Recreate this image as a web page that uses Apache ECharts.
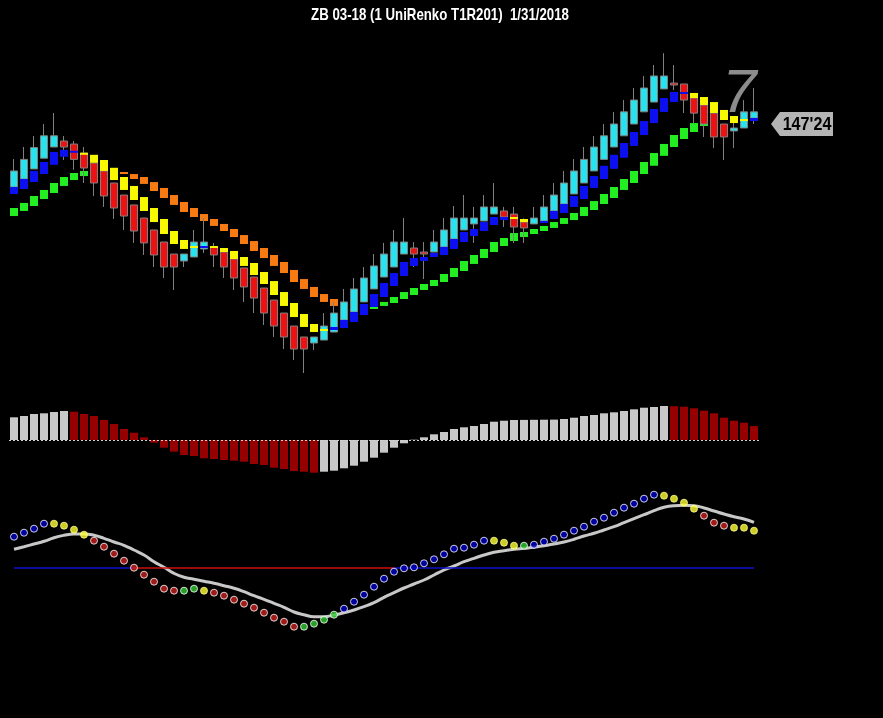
<!DOCTYPE html>
<html>
<head>
<meta charset="utf-8">
<title>ZB 03-18 UniRenko</title>
<script src="https://cdn.jsdelivr.net/npm/echarts@6/dist/echarts.min.js"></script>
<style>
  html, body { margin: 0; padding: 0; background: #000; }
  #chart { width: 883px; height: 718px; }
</style>
</head>
<body>
<div id="chart"></div>
<script>
// all prices are in 32nds above 147'00
var candleOpen = [18.66, 19.34, 20.19, 21.1, 22.05, 22.56, 22.3, 21.54, 20.69, 20.02,
  19.0, 17.98, 17.14, 16.03, 15.02, 14.0, 12.98, 12.39, 12.73, 13.41,
  13.58, 13.15, 12.56, 11.8, 11.03, 10.1, 9.08, 7.98, 6.88, 5.95,
  5.44, 5.69, 6.37, 7.39, 8.07, 8.92, 10.02, 11.03, 11.88, 12.98,
  13.49, 13.15, 13.15, 13.58, 14.25, 15.02, 15.53, 15.78, 16.37, 16.63,
  16.37, 15.69, 15.53, 15.78, 16.63, 17.22, 18.07, 19.0, 20.02, 21.0,
  22.05, 23.0, 24.0, 25.03, 25.86, 26.97, 27.47, 27.39, 26.2, 25.61,
  24.92, 24.0, 23.41, 23.66, 24.5];
var candleClose = [20.02, 21.0, 22.0, 23.0, 23.0, 22.05, 21.0, 20.27, 19.0, 17.9,
  16.88, 16.2, 14.93, 13.92, 12.9, 11.88, 11.88, 12.98, 14.0, 14.0,
  12.9, 11.88, 10.95, 10.19, 9.25, 7.98, 6.88, 5.95, 4.93, 4.93,
  5.95, 6.88, 7.98, 8.92, 10.02, 10.95, 11.97, 12.98, 14.0, 14.0,
  12.98, 12.98, 14.0, 15.02, 16.03, 16.03, 16.03, 16.97, 16.97, 16.12,
  15.27, 15.19, 16.03, 16.97, 17.98, 19.0, 20.02, 21.0, 22.05, 23.0,
  24.0, 25.03, 26.03, 27.05, 28.07, 28.07, 27.3, 26.03, 24.92, 24.0,
  22.9, 22.9, 23.66, 25.03, 25.03];
var candleLow = [18.66, 19.34, 20.19, 21.1, 22.05, 20.95, 20.12, 19.0, 17.9, 16.97,
  15.95, 15.02, 13.92, 12.9, 11.88, 10.95, 9.93, 11.88, 12.73, 13.07,
  11.88, 10.95, 9.93, 8.92, 7.98, 6.97, 5.95, 4.93, 4.0, 2.9,
  4.85, 5.69, 6.37, 7.39, 8.07, 8.92, 10.02, 11.03, 11.88, 12.98,
  11.88, 10.86, 13.15, 13.58, 14.25, 15.02, 13.92, 15.78, 16.37, 15.27,
  13.92, 13.92, 15.53, 15.78, 16.63, 17.22, 18.07, 19.0, 20.02, 21.0,
  22.05, 23.0, 24.0, 25.03, 25.86, 26.97, 26.88, 24.93, 24.08, 22.9,
  21.97, 20.95, 21.97, 23.66, 24.0];
var candleHigh = [21.03, 22.05, 22.98, 24.0, 24.93, 22.98, 22.56, 22.05, 20.69, 20.02,
  19.0, 17.98, 17.14, 16.03, 15.02, 14.0, 12.98, 12.98, 15.02, 16.03,
  13.92, 13.15, 12.56, 11.8, 11.03, 10.1, 9.08, 7.98, 6.88, 5.95,
  5.95, 7.98, 8.92, 10.02, 10.95, 11.88, 12.98, 13.92, 15.02, 16.03,
  14.0, 14.0, 15.02, 16.03, 17.05, 17.98, 16.97, 17.98, 19.0, 16.97,
  16.97, 16.0, 16.97, 17.98, 19.0, 20.02, 21.03, 22.05, 22.98, 24.0,
  25.02, 26.03, 27.05, 28.07, 29.0, 30.0, 29.0, 27.39, 26.2, 25.61,
  24.92, 24.0, 24.3, 26.03, 27.05];

// fast band (blue up / yellow down)
var fastLow = [18.07, 18.49, 19.08, 19.76, 20.54, 21.22, 21.56, 21.39, 20.71, 20.02,
  19.25, 18.41, 17.56, 16.63, 15.69, 14.68, 13.83, 13.41, 13.49, 13.49,
  13.49, 13.15, 12.56, 11.97, 11.2, 10.44, 9.51, 8.58, 7.64, 6.8,
  6.37, 6.46, 6.54, 6.71, 7.22, 7.81, 8.49, 9.34, 10.27, 11.12,
  11.97, 12.39, 12.73, 12.9, 13.41, 14.0, 14.51, 14.93, 15.44, 15.86,
  15.95, 15.69, null, 15.61, 15.95, 16.46, 16.97, 17.64, 18.58, 19.34,
  20.2, 21.14, 22.14, 23.07, 24.08, 25.02, 25.86, 26.54, 26.2, 25.61,
  24.93, 24.34, 24.08, 24.25, 24.25];
var fastHigh = [18.66, 19.34, 20.02, 20.78, 21.63, 21.81, 21.73, 21.56, 21.39, 20.95,
  20.29, 19.51, 18.75, 17.81, 16.88, 15.95, 14.93, 14.17, 13.66, 13.66,
  13.66, 13.49, 13.24, 12.73, 12.22, 11.46, 10.69, 9.76, 8.83, 7.9,
  7.05, 6.63, 6.8, 7.39, 8.07, 8.75, 9.59, 10.53, 11.37, 12.31,
  12.64, 12.73, 13.07, 13.58, 14.25, 14.85, 15.1, 15.69, 16.12, 16.12,
  16.12, 15.95, null, 15.78, 16.63, 17.22, 17.9, 18.75, 19.59, 20.46,
  21.39, 22.39, 23.32, 24.25, 25.27, 26.2, 26.71, 26.71, 26.63, 26.29,
  25.86, 25.19, 24.68, 24.42, 24.51];
var fastTrend = [1, 1, 1, 1, 1, 1, 1, -1, -1, -1,
  -1, -1, -1, -1, -1, -1, -1, -1, -1, 1,
  -1, -1, -1, -1, -1, -1, -1, -1, -1, -1,
  -1, -1, 1, 1, 1, 1, 1, 1, 1, 1,
  1, 1, 1, 1, 1, 1, 1, 1, 1, 1,
  -1, -1, 0, 1, 1, 1, 1, 1, 1, 1,
  1, 1, 1, 1, 1, 1, 1, 1, -1, -1,
  -1, -1, -1, -1, 1];

// slow band (green up / orange down)
var slowLow = [16.2, 16.63, 17.05, 17.64, 18.15, 18.75, 19.25, 19.59, null, null,
  null, 19.76, 19.34, 18.92, 18.32, 17.73, 17.14, 16.54, 16.12, 15.78,
  15.36, 14.93, 14.42, 13.83, 13.24, 12.64, 11.97, 11.37, 10.61, 10.02,
  9.34, 8.92, 8.58, null, null, null, 8.32, 8.58, 8.83, 9.17,
  9.51, 9.93, 10.27, 10.61, 11.03, 11.54, 12.14, 12.64, 13.15, 13.66,
  14.08, 14.42, 14.68, 14.93, 15.19, 15.53, 15.86, 16.2, 16.71, 17.22,
  17.73, 18.41, 19.0, 19.76, 20.46, 21.3, 22.05, 22.73, 23.32, 23.83,
  null, null, null, null, null];
var slowHigh = [16.88, 17.31, 17.9, 18.41, 19.0, 19.51, 19.85, 20.02, null, null,
  null, 19.93, 19.76, 19.51, 19.08, 18.58, 17.98, 17.39, 16.88, 16.37,
  15.95, 15.53, 15.1, 14.59, 14.08, 13.49, 12.9, 12.31, 11.63, 10.86,
  10.19, 9.59, 9.17, null, null, null, 8.49, 8.92, 9.34, 9.76,
  10.1, 10.44, 10.78, 11.29, 11.8, 12.39, 12.9, 13.41, 14.0, 14.34,
  14.76, 14.85, 15.1, 15.36, 15.69, 16.03, 16.46, 16.97, 17.47, 18.07,
  18.66, 19.34, 20.02, 20.78, 21.54, 22.31, 23.07, 23.66, 24.08, 24.0,
  null, null, null, null, null];
var slowTrend = [1, 1, 1, 1, 1, 1, 1, 1, 0, 0,
  0, -1, -1, -1, -1, -1, -1, -1, -1, -1,
  -1, -1, -1, -1, -1, -1, -1, -1, -1, -1,
  -1, -1, -1, 0, 0, 0, 1, 1, 1, 1,
  1, 1, 1, 1, 1, 1, 1, 1, 1, 1,
  1, 1, 1, 1, 1, 1, 1, 1, 1, 1,
  1, 1, 1, 1, 1, 1, 1, 1, 1, 1,
  0, 0, 0, 0, 0];

var lastPrice = 24; // 147'24

// histogram panel
var histValues = [22.7, 24, 26, 26.7, 28, 29, 28.3, 26, 24, 20,
  16, 11, 7.3, 2.7, -2.7, -7.7, -11.7, -15, -16, -18.3,
  -19, -20, -20.7, -21.7, -24, -25, -27.7, -29, -31, -31.7,
  -32.7, -31.7, -30.7, -28.3, -25.7, -21.7, -17.7, -12.7, -7.7, -3.3,
  0.3, 2.7, 5.7, 8, 11, 12.7, 14, 16, 18.3, 19.3,
  20, 20.1, 20.2, 20.3, 20.4, 21, 22.3, 24, 25, 26.7,
  27.7, 29, 30.7, 32.3, 33, 34, 33.8, 33.3, 31.7, 29.3,
  26.7, 22.3, 19.3, 17.3, 14];

// oscillator panel
var oscDots = [31.3, 35.3, 39.3, 44.3, 44.3, 42.3, 38.3, 33.3, 27.3, 21.3,
  14.3, 7.3, 0.3, -6.7, -13.7, -20.7, -22.7, -22.7, -20.7, -22.7,
  -24.7, -27.7, -31.7, -35.7, -39.7, -44.7, -49.7, -53.7, -58.7, -58.7,
  -55.7, -51.7, -46.7, -40.7, -33.7, -26.7, -18.7, -10.7, -3.7, -0.3,
  0.7, 4.7, 8.7, 13.7, 19.3, 20.3, 23.3, 27.3, 27.3, 25.3,
  22.3, 22.3, 23.3, 26.3, 29.3, 33.3, 37.3, 41.3, 46.3, 50.3,
  55.3, 60.3, 64.3, 69.3, 73.3, 72.3, 69.3, 65.3, 59.3, 52.3,
  45.3, 42.3, 40.3, 40.3, 37.3];
var dotState = 'BBBBYYYYRRRRRRRRRGGYRRRRRRRRRGGGGBBBBBBBBBBBBBBBYYYGBBBBBBBBBBBBBYYYYRRRYYY'.split('');
var oscSignal = [18.7, 21.3, 24, 26.7, 30.3, 32.7, 34, 34, 32.7, 29.7,
  26, 22.7, 18, 13, 6.3, 0.7, -5.3, -9.3, -11.3, -13.3,
  -15.3, -17.7, -20.3, -23.7, -27.7, -31.3, -35.3, -39.3, -44, -46.7,
  -48.7, -48.7, -47, -44.7, -42, -38.7, -34.7, -29.3, -24.7, -20,
  -16, -12, -7, -2, 2, 6.3, 9.7, 13, 15.7, 17.3,
  18.7, 19.7, 20.7, 22.3, 24, 26, 28.7, 32, 34.7, 38,
  41.3, 45.3, 49.3, 53.3, 57.3, 60.7, 62.3, 62.7, 62.3, 60,
  57, 54, 51.3, 49, 45.7];
var oscLevel = 0;
var levelRedFrom = 12, levelRedTo = 38;

var categories = candleOpen.map(function (v, i) { return String(i + 1); });

var dotColors = { B: '#0000c8', Y: '#ffff30', R: '#c82020', G: '#30cc30' };
var titleText = 'ZB 03-18 (1 UniRenko T1R201)  1/31/2018';

function boxRenderer(upColor, downColor) {
  return function (params, api) {
    var lo = api.value(1), hi = api.value(2);
    if (isNaN(lo) || isNaN(hi)) {
      return;
    }
    var top = api.coord([api.value(0), hi]);
    var bottom = api.coord([api.value(0), lo]);
    var w = api.size([1, 0])[0] * 0.8;
    return {
      type: 'rect',
      shape: { x: top[0] - w / 2, y: top[1], width: w, height: Math.max(bottom[1] - top[1], 1.5) },
      style: { fill: api.value(3) > 0 ? upColor : downColor }
    };
  };
}

function boxData(lows, highs, trend) {
  return lows.map(function (lo, i) {
    return [i, lo == null ? '-' : lo, highs[i] == null ? '-' : highs[i], trend[i]];
  });
}

var chart = echarts.init(document.getElementById('chart'));

chart.setOption({
  backgroundColor: '#000',
  animation: false,
  grid: [
    { left: 9, width: 750, top: 29.6, height: 359.9 },
    { left: 9, width: 750, top: 400, height: 80 },
    { left: 9, width: 750, top: 488, height: 152 }
  ],
  xAxis: [0, 1, 2].map(function (g) {
    return { type: 'category', gridIndex: g, data: categories, show: false, boundaryGap: true };
  }),
  yAxis: [
    { type: 'value', gridIndex: 0, min: 1.5, max: 32, show: false, splitLine: { show: false } },
    { type: 'value', gridIndex: 1, min: -40, max: 40, show: false, splitLine: { show: false } },
    { type: 'value', gridIndex: 2, min: -72, max: 80, show: false, splitLine: { show: false } }
  ],
  visualMap: [{
    show: false,
    type: 'piecewise',
    seriesIndex: 4,
    dimension: 0,
    pieces: [
      { lte: levelRedFrom, color: '#1010c8' },
      { gt: levelRedFrom, lte: levelRedTo, color: '#c81010' },
      { gt: levelRedTo, color: '#1010c8' }
    ]
  }],
  series: [
    {
      name: 'slow',
      type: 'custom',
      xAxisIndex: 0,
      yAxisIndex: 0,
      z: 1,
      renderItem: boxRenderer('#22ee22', '#f77a12'),
      encode: { x: 0, y: [1, 2] },
      data: boxData(slowLow, slowHigh, slowTrend)
    },
    {
      name: 'bricks',
      type: 'candlestick',
      xAxisIndex: 0,
      yAxisIndex: 0,
      z: 2,
      barWidth: 8,
      data: candleOpen.map(function (o, i) {
        return [o, candleClose[i], candleLow[i], candleHigh[i]];
      }),
      itemStyle: {
        color: '#25e4ef',
        color0: '#ee1111',
        borderColor: '#808080',
        borderColor0: '#808080',
        borderWidth: 1
      }
    },
    {
      name: 'fast',
      type: 'custom',
      xAxisIndex: 0,
      yAxisIndex: 0,
      z: 3,
      renderItem: boxRenderer('#0c10f0', '#f8f800'),
      encode: { x: 0, y: [1, 2] },
      data: boxData(fastLow, fastHigh, fastTrend)
    },
    {
      name: 'hist',
      type: 'bar',
      xAxisIndex: 1,
      yAxisIndex: 1,
      barWidth: 8,
      data: histValues.map(function (v, i) {
        var rising = i === 0 || v > histValues[i - 1];
        return { value: v, itemStyle: { color: rising ? '#c8c8c8' : '#960000' } };
      }),
      markLine: {
        silent: true,
        symbol: 'none',
        label: { show: false },
        lineStyle: { color: '#d0d0d0', type: [2, 2], width: 1 },
        data: [{ yAxis: 0 }]
      }
    },
    {
      name: 'level',
      type: 'line',
      xAxisIndex: 2,
      yAxisIndex: 2,
      symbol: 'none',
      lineStyle: { width: 1 },
      data: categories.map(function () { return oscLevel; })
    },
    {
      name: 'signal',
      type: 'line',
      xAxisIndex: 2,
      yAxisIndex: 2,
      smooth: true,
      symbol: 'none',
      z: 2,
      lineStyle: { color: '#c8c8c8', width: 3 },
      data: oscSignal
    },
    {
      name: 'osc',
      type: 'scatter',
      xAxisIndex: 2,
      yAxisIndex: 2,
      z: 3,
      symbolSize: 7,
      data: oscDots.map(function (v, i) {
        var s = dotState[i];
        return {
          value: [i, v],
          itemStyle: { color: dotColors[s], borderColor: s === 'Y' ? '#ffff90' : '#ffffff', borderWidth: 1 }
        };
      })
    }
  ]
});

// price tag next to the last brick, condensed title and the bar counter
var tagY = chart.convertToPixel({ yAxisIndex: 0 }, lastPrice);
var tagX = chart.convertToPixel({ xAxisIndex: 0 }, categories.length - 1) + 17;
var priceText = "147'" + (lastPrice < 10 ? '0' : '') + lastPrice;

chart.setOption({
  graphic: [
    {
      type: 'text',
      x: 440,
      y: 15,
      scaleX: 0.78,
      style: {
        text: titleText,
        fill: '#fff',
        font: 'bold 17px "Liberation Sans", sans-serif',
        align: 'center',
        verticalAlign: 'middle'
      }
    },
    {
      type: 'polygon',
      shape: { points: [[tagX, tagY], [tagX + 9, tagY - 12], [tagX + 62, tagY - 12], [tagX + 62, tagY + 12], [tagX + 9, tagY + 12]] },
      style: { fill: '#b4b4b4' }
    },
    {
      type: 'text',
      x: tagX + 36,
      y: tagY + 1,
      scaleX: 0.85,
      style: {
        text: priceText,
        fill: '#000',
        font: 'bold 19px "Liberation Sans", sans-serif',
        align: 'center',
        verticalAlign: 'middle'
      }
    },
    {
      type: 'text',
      x: 722,
      y: 64,
      style: {
        text: '7',
        fill: '#8c8c8c',
        font: 'italic 62px "Liberation Sans", sans-serif'
      }
    }
  ]
});
</script>
</body>
</html>
